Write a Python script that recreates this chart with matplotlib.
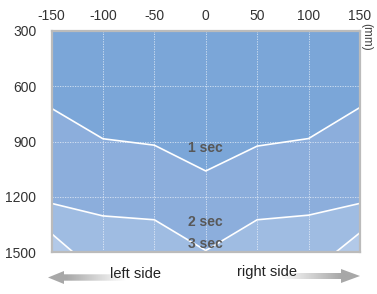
import matplotlib.pyplot as plt
import numpy as np
from matplotlib.patches import Polygon
from matplotlib.colors import LinearSegmentedColormap

plt.rcParams['font.family'] = ['Liberation Sans', 'DejaVu Sans']
plt.rcParams['axes.unicode_minus'] = False

# positions across the sensor (mm) and the boundary depth for each time
x_pos = [-150, -100, -50, 0, 50, 100, 150]
t1_sec = [720, 885, 920, 1060, 925, 884, 715]
t2_sec = [1236, 1304, 1325, 1492, 1325, 1300, 1236]
t3_sec = [1400, 1640, 1760, 1840, 1760, 1620, 1395]

xticks = [-150, -100, -50, 0, 50, 100, 150]
yticks = [300, 600, 900, 1200, 1500]

W, H = 377, 294
fig = plt.figure(figsize=(W / 100, H / 100), dpi=100)
ax = fig.add_axes([51.5 / W, 1 - 252 / H, (360 - 51.5) / W, (252 - 31) / H])

# layered fills, deepest first
ax.set_facecolor('#b2c9e8')
ax.fill_between(x_pos, 0, t3_sec, color='#9fbce2', lw=0)
ax.fill_between(x_pos, 0, t2_sec, color='#8caedc', lw=0)
ax.fill_between(x_pos, 0, t1_sec, color='#7ba6d8', lw=0)
for t in (t1_sec, t2_sec, t3_sec):
    ax.plot(x_pos, t, color='white', lw=1.2)

ax.set_xlim(-150, 150)
ax.set_ylim(1500, 300)
ax.set_xticks(xticks)
ax.set_yticks(yticks)
ax.xaxis.tick_top()
ax.tick_params(length=0, labelsize=10, colors='#333333')
ax.tick_params(axis='x', pad=6)
ax.tick_params(axis='y', pad=11)
ax.grid(True, color='white', ls=(0, (1.5, 1.5)), lw=0.6, alpha=0.7)
for s in ax.spines.values():
    s.set_color('#bbbbbb')
    s.set_linewidth(1.6)

for lbl, yv in [('1 sec', 936), ('2 sec', 1335), ('3 sec', 1458)]:
    ax.text(0, yv, lbl, ha='center', va='center', fontsize=10,
            fontweight='bold', color='#585858')

# overlay in pixel coordinates for arrows and labels
ov = fig.add_axes([0, 0, 1, 1], zorder=-1)
ov.axis('off')

fig.text(366 / W, 1 - 37 / H, '(mm)', rotation=-90, ha='center', va='center',
         fontsize=8.5, color='#444444')

arrow_cmap = LinearSegmentedColormap.from_list('arr', ['#ffffff', '#a8a8a8'])


def grad_arrow(tip, back, tail, yc, head_h, shaft_h):
    pts = [(tip, yc), (back, yc - head_h), (back, yc - shaft_h), (tail, yc - shaft_h),
           (tail, yc + shaft_h), (back, yc + shaft_h), (back, yc + head_h)]
    poly = Polygon(pts, closed=True, facecolor='none', edgecolor='none')
    ov.add_patch(poly)
    g = np.clip(np.linspace(-0.15, 1.3, 256), 0, 1)
    if tip < tail:
        g = g[::-1]  # dark at the head on the left
    g = g.reshape(1, -1)
    x0, x1 = min(tip, tail), max(tip, tail)
    im = ov.imshow(g, cmap=arrow_cmap, vmin=0, vmax=1, aspect='auto',
                   extent=[x0, x1, yc + head_h, yc - head_h], interpolation='bilinear')
    im.set_clip_path(poly)


grad_arrow(48, 64, 135, 277.5, 6.5, 3.2)
grad_arrow(360, 341, 270, 276, 7, 3.0)
ov.set_xlim(0, W)
ov.set_ylim(H, 0)

fig.text(136 / W, 1 - 274 / H, 'left side', ha='center', va='center', fontsize=10.5, color='#222222')
fig.text(267 / W, 1 - 272 / H, 'right side', ha='center', va='center', fontsize=10.5, color='#222222')

fig.savefig('out.png', dpi=100)
